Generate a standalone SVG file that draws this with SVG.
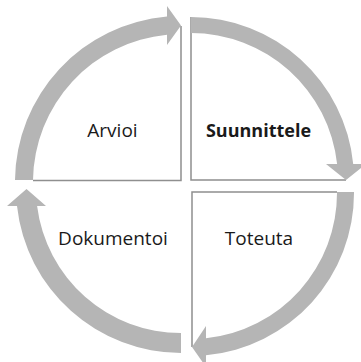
<svg xmlns="http://www.w3.org/2000/svg" width="361" height="362" viewBox="0 0 361 362">
<style>
.bg{fill:#ffffff}
.edge{fill:none;stroke:#8f8f8f;stroke-width:1.5}
.arrow{fill:#b5b5b5;stroke:none}
.lbl{font-family:"Open Sans","Noto Sans","Liberation Sans",sans-serif;font-size:19px;fill:#1a1a1a;text-anchor:middle}
.bold{font-weight:bold;font-size:18px}
</style>
<rect class="bg" x="0" y="0" width="361" height="362"/>
<g id="arvioi">
<polyline class="edge" points="33,180.5 181,180.5 181,26"/>
<text class="lbl" x="112.5" y="137">Arvioi</text>
</g>
<g id="suunnittele">
<polyline class="edge" points="191,17 191,180 346,180"/>
<text class="lbl bold" x="258.5" y="137">Suunnittele</text>
</g>
<g id="toteuta">
<polyline class="edge" points="337,192 192,192 192,347"/>
<text class="lbl" x="259" y="245">Toteuta</text>
</g>
<g id="dokumentoi">
<text class="lbl" x="113" y="245">Dokumentoi</text>
</g>
<g id="connectors">
<path class="arrow" d="M15,180 A166,166 0 0 1 167,16.6 L167,6 L181,25.6 L167,45 L167,34.7 A148,148 0 0 0 33,180 Z"/>
<path class="arrow" d="M191,17 A163,163 0 0 1 353.2,164 L366,164 L346,180 L326,164 L337.1,164 A147,147 0 0 0 191,33 Z"/>
<path class="arrow" d="M354,192 A163,163 0 0 1 206,355.3 L206,367 L192,347 L206,326 L206,338.2 A146,146 0 0 0 337,192 Z"/>
<path class="arrow" d="M181,353 A165,165 0 0 1 17,206 L7,206 L26.5,189 L46,206 L37.1,206 A145,145 0 0 0 181,333 Z"/>
</g>
</svg>
